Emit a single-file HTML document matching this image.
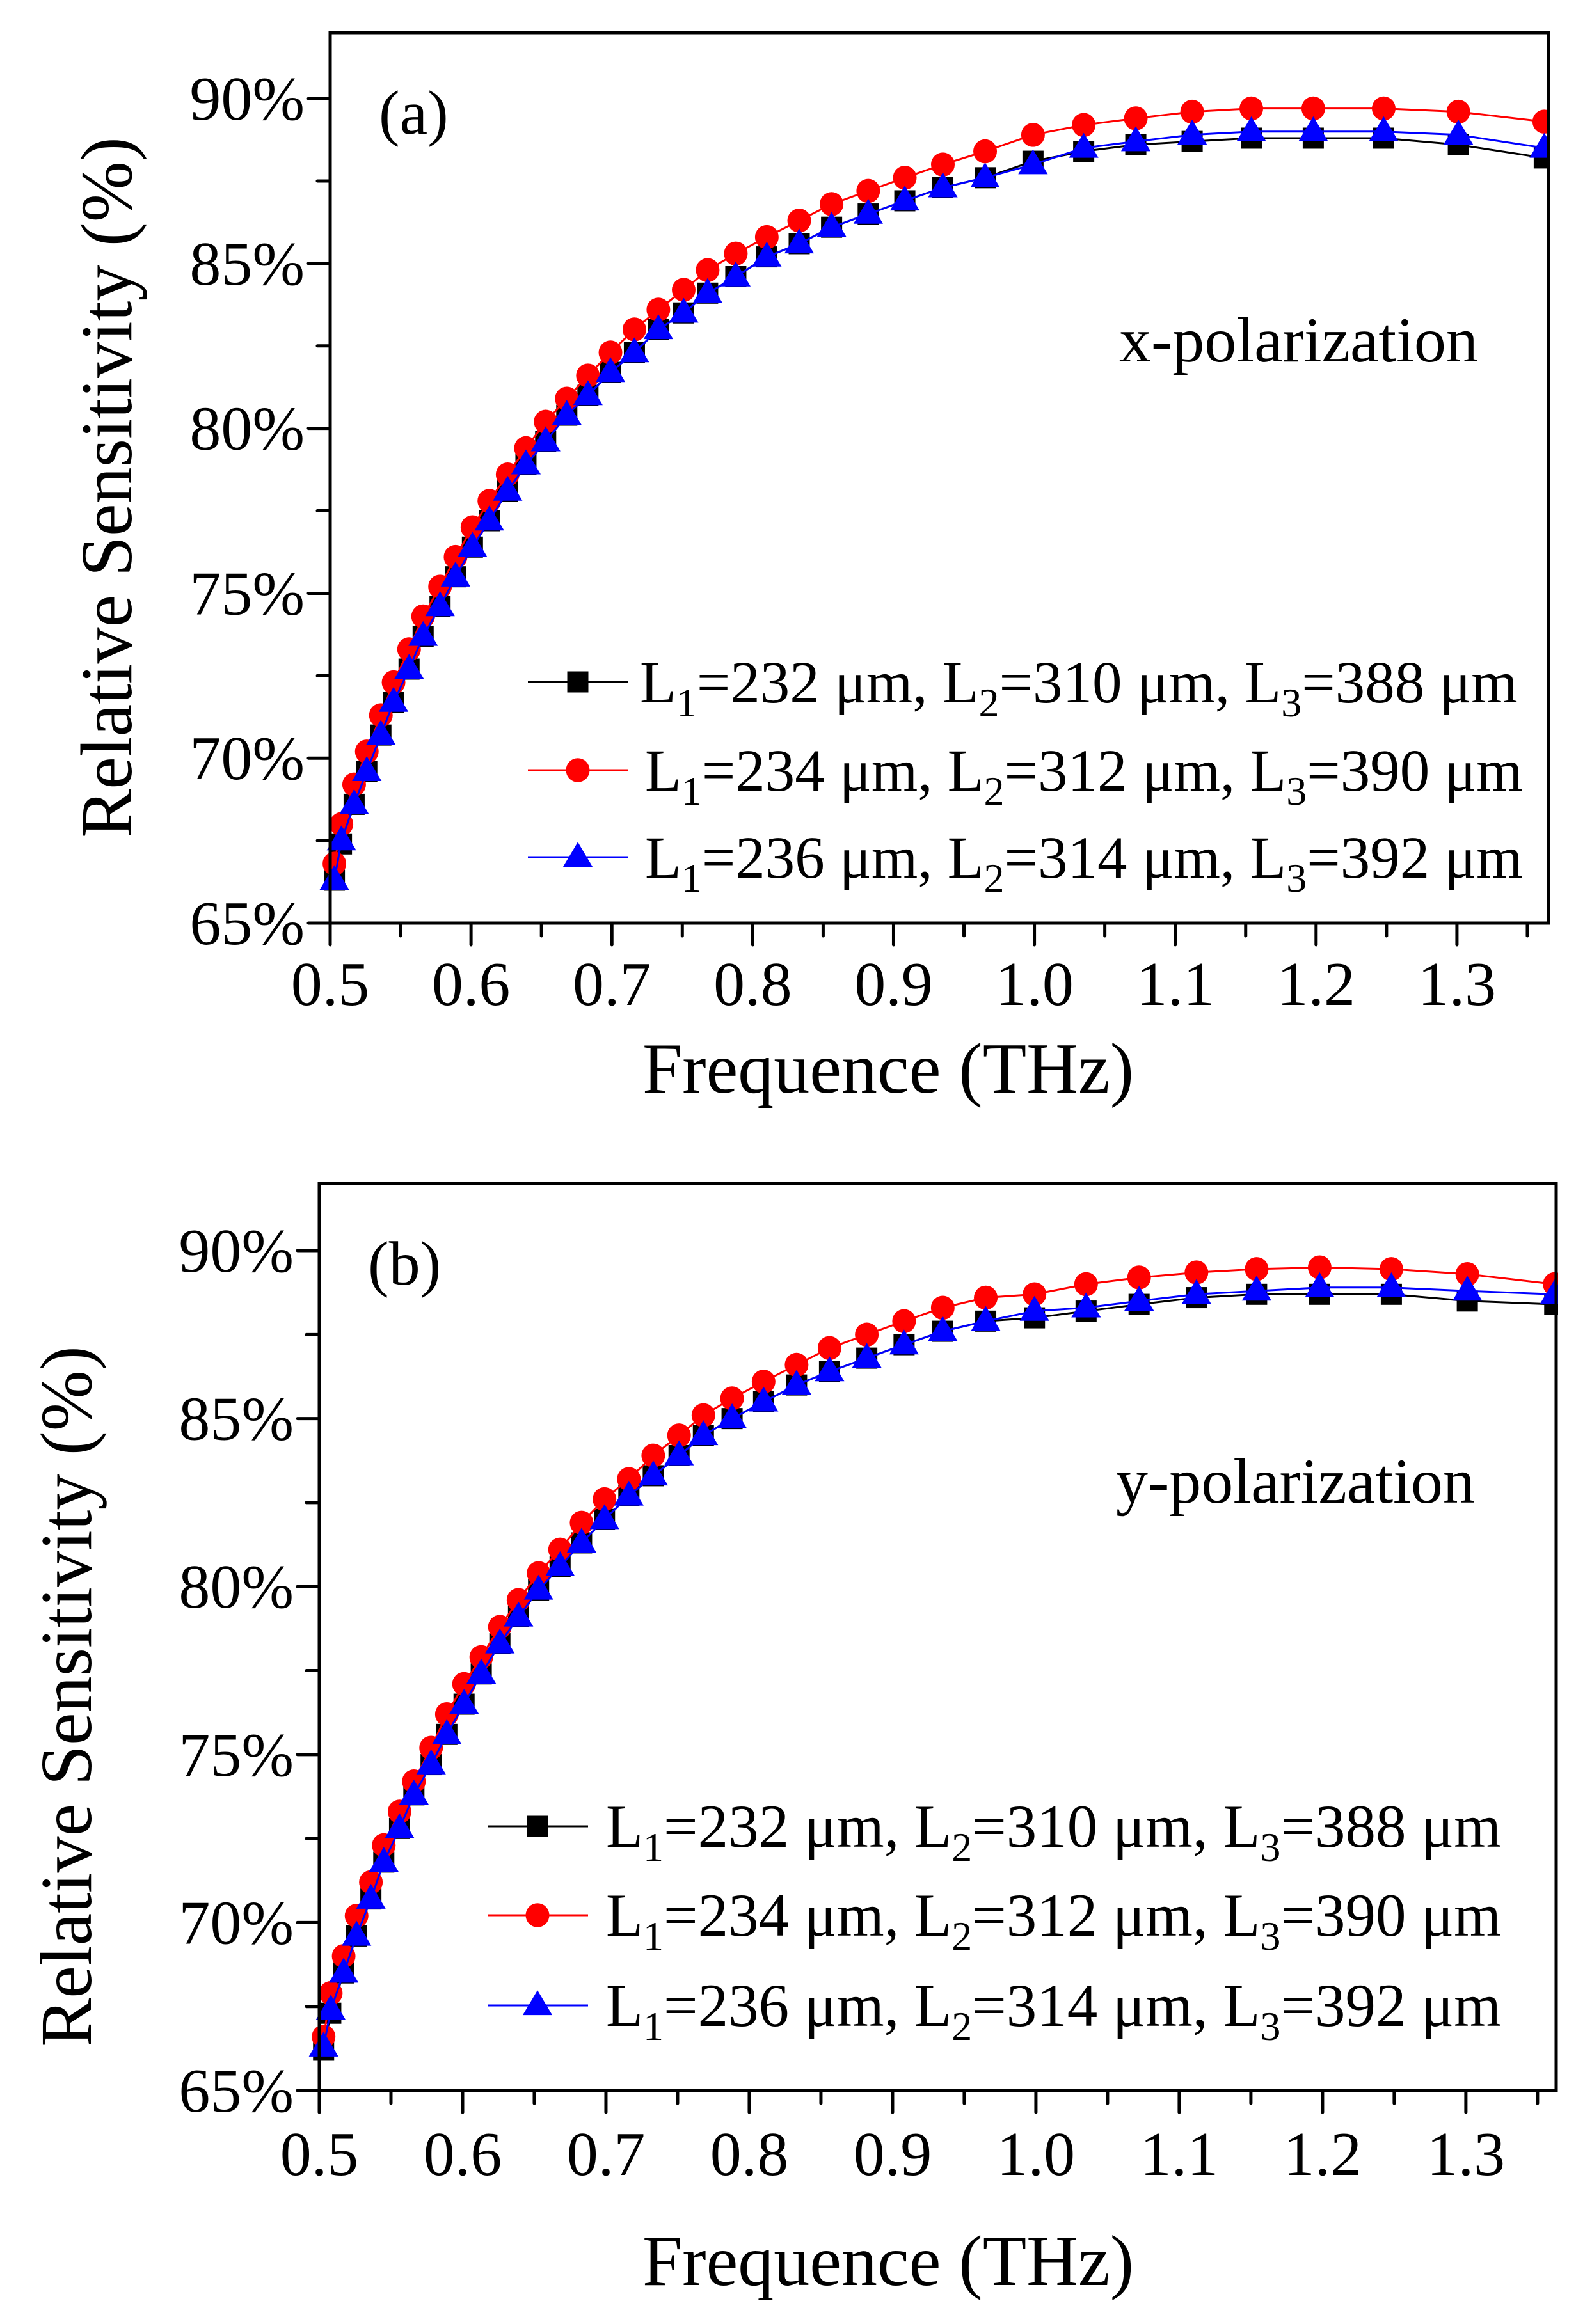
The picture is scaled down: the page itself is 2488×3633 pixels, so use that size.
<!DOCTYPE html>
<html><head><meta charset="utf-8"><style>
html,body{margin:0;padding:0;background:#fff;}
svg{display:block;}
text{font-family:"Liberation Serif",serif;fill:#000;}
</style></head><body>
<svg id="chart" width="2488" height="3633" viewBox="0 0 2488 3633" xmlns="http://www.w3.org/2000/svg"></svg>
<script>
const freq = [0.503,0.508,0.517,0.526,0.536,0.545,0.556,0.566,0.578,0.589,0.601,0.613,0.626,0.639,0.653,0.668,0.683,0.699,0.716,0.733,0.751,0.768,0.788,0.810,0.833,0.856,0.882,0.908,0.935,0.965,0.999,1.035,1.072,1.112,1.154,1.198,1.248,1.301,1.362];
const xBlackA = [66.3,67.4,68.6,69.6,70.7,71.7,72.7,73.7,74.6,75.5,76.4,77.2,78.1,78.9,79.6,80.4,81.0,81.7,82.3,83.0,83.5,84.1,84.6,85.2,85.6,86.1,86.5,86.9,87.3,87.6,88.1,88.4,88.6,88.7,88.8,88.8,88.8,88.6,88.2];
const xRedA = [66.8,68.0,69.2,70.2,71.3,72.3,73.3,74.3,75.2,76.1,77.0,77.8,78.6,79.4,80.2,80.9,81.6,82.3,83.0,83.6,84.2,84.8,85.3,85.8,86.3,86.8,87.2,87.6,88.0,88.4,88.9,89.2,89.4,89.6,89.7,89.7,89.7,89.6,89.3];
const xBlueA = [66.3,67.5,68.6,69.6,70.7,71.7,72.7,73.7,74.6,75.5,76.4,77.2,78.1,78.9,79.6,80.4,81.0,81.7,82.3,83.0,83.5,84.1,84.6,85.2,85.6,86.1,86.5,86.9,87.3,87.6,88.0,88.5,88.7,88.9,89.0,89.0,89.0,88.9,88.5];
const yBlackB = [66.2,67.3,68.5,69.6,70.7,71.8,72.8,73.8,74.7,75.6,76.5,77.4,78.3,79.1,79.9,80.6,81.3,82.0,82.7,83.3,83.9,84.5,85.0,85.5,86.0,86.4,86.8,87.2,87.6,87.9,88.0,88.2,88.4,88.6,88.7,88.7,88.7,88.5,88.4];
const yRedB = [66.6,67.9,69.0,70.2,71.2,72.3,73.3,74.2,75.2,76.2,77.1,77.9,78.8,79.6,80.4,81.1,81.9,82.6,83.2,83.9,84.5,85.1,85.6,86.1,86.6,87.1,87.5,87.9,88.3,88.6,88.7,89.0,89.2,89.35,89.45,89.5,89.45,89.3,89.0];
const yBlueB = [66.3,67.4,68.5,69.6,70.7,71.8,72.8,73.8,74.7,75.6,76.5,77.4,78.3,79.1,79.9,80.6,81.3,82.0,82.7,83.3,83.9,84.5,85.0,85.5,86.0,86.4,86.8,87.2,87.6,87.9,88.2,88.3,88.5,88.7,88.8,88.9,88.9,88.8,88.7];
const xTicks = [0.5,0.6,0.7,0.8,0.9,1.0,1.1,1.2,1.3];
const xTickLabels = ["0.5","0.6","0.7","0.8","0.9","1.0","1.1","1.2","1.3"];
const yTicks = [65,70,75,80,85,90];
const yTickLabels = ["65%","70%","75%","80%","85%","90%"];
const legendLabels = [["232","310","388"],["234","312","390"],["236","314","392"]];

const NS="http://www.w3.org/2000/svg";
const svg=document.getElementById('chart');
function mk(tag,attrs,parent){const e=document.createElementNS(NS,tag);for(const k in attrs)e.setAttribute(k,attrs[k]);(parent||svg).appendChild(e);return e;}

const colors=["#000000","#ff0000","#0000ff"];
const names=["black","red","blue"];

function marker(g,kind,cx,cy,col,s){
  let m;
  if(kind===0) m=mk('rect',{x:cx-s*0.5,y:cy-s*0.5,width:s,height:s,fill:col},g);
  else if(kind===1) m=mk('ellipse',{cx:cx,cy:cy,rx:s*0.56,ry:s*0.57,fill:col},g);
  else m=mk('polygon',{points:`${cx},${cy-s*0.72} ${cx-s*0.7},${cy+s*0.46} ${cx+s*0.7},${cy+s*0.46}`,fill:col},g);
  return m;
}

function panel(p){
  const g=mk('g',{});
  
  
  const X=v=>p.L+(v-p.x0)/(p.x1-p.x0)*(p.R-p.L);
  const Y=v=>p.B-(v-p.y0)/(p.y1-p.y0)*(p.B-p.T);
  const series=[p.black,p.red,p.blue];
  series.forEach((vals,si)=>{
    const sg=mk('g',{},g);
    
    
    const pts=freq.map((f,i)=>X(f).toFixed(1)+','+Y(vals[i]).toFixed(1)).join(' ');
    const ln=mk('polyline',{points:pts,fill:'none',stroke:colors[si],'stroke-width':3},sg);
    
    
    freq.forEach((f,i)=>{
      const m=marker(sg,si,X(f),Y(vals[i]),colors[si],33);
      
      
    });
  });
  mk('rect',{x:p.R+3,y:p.T-40,width:200,height:p.B-p.T+80,fill:'#fff'},g);
  mk('rect',{x:p.L-60,y:p.B+3,width:p.R-p.L+120,height:40,fill:'#fff'},g);
  const fr=mk('rect',{x:p.L,y:p.T,width:p.R-p.L,height:p.B-p.T,fill:'none',stroke:'#000','stroke-width':5},g);
  
  
  for(let v=p.x0;v<=p.x1+1e-9;v+=0.05){
    const major=Math.abs(Math.round(v*10)-v*10)<1e-6;
    mk('line',{x1:X(v),y1:p.B,x2:X(v),y2:p.B+(major?34:20),stroke:'#000','stroke-width':5,'stroke-linecap':'round'},g);
  }
  xTicks.forEach((v,i)=>{
    const t=mk('text',{x:X(v),y:p.xLabY,'font-size':98,'text-anchor':'middle'},g);
    t.textContent=xTickLabels[i];
    
    
  });
  for(let v=p.y0;v<=p.y1+1e-9;v+=2.5){
    const major=Math.abs(v%5)<1e-6;
    mk('line',{x1:p.L,y1:Y(v),x2:p.L-(major?34:20),y2:Y(v),stroke:'#000','stroke-width':5,'stroke-linecap':'round'},g);
  }
  yTicks.forEach((v,i)=>{
    const t=mk('text',{x:p.L-40,y:Y(v)+33,'font-size':98,'text-anchor':'end'},g);
    t.textContent=yTickLabels[i];
    
    
  });
  const xt=mk('text',{x:1388,y:p.xTitleY,'font-size':112,'text-anchor':'middle'},g);
  xt.textContent='Frequence (THz)';
  
  
  const yt=mk('text',{x:0,y:0,'font-size':114,'text-anchor':'middle',transform:`translate(${p.yTitleX},${p.yTitleC}) rotate(-90)`},g);
  yt.textContent='Relative Sensitivity (%)';
  
  
  const pl=mk('text',{x:p.L+76,y:p.T+158,'font-size':98},g);
  pl.textContent=p.letter;
  
  
  const pz=mk('text',{x:p.polX,y:p.polY,'font-size':100},g);
  pz.textContent=p.pol;
  
  
  const lg=mk('g',{},g);
  
  
  legendLabels.forEach((lab,i)=>{
    const ry=p.legY[i];
    const eg=mk('g',{},lg);
    
    
    mk('line',{x1:p.legX0,y1:ry,x2:p.legX0+157,y2:ry,stroke:colors[i],'stroke-width':3},eg);
    marker(eg,i,p.legX0+78,ry,colors[i],33);
    const t=mk('text',{x:p.legTx+(i>0?p.legShift:0),y:ry+32,'font-size':p.legFs},eg);
    t.innerHTML=`L<tspan font-size="64" dy="22">1</tspan><tspan dy="-22">=${lab[0]} μm, L</tspan><tspan font-size="64" dy="22">2</tspan><tspan dy="-22">=${lab[1]} μm, L</tspan><tspan font-size="64" dy="22">3</tspan><tspan dy="-22">=${lab[2]} μm</tspan>`;
  });
}

panel({id:'a',L:516,R:2420,T:51,B:1443,x0:0.5,x1:1.365,y0:65,y1:92,
  black:xBlackA,red:xRedA,blue:xBlueA,letter:'(a)',pol:'x-polarization',polX:1749,polY:565,
  xLabY:1571,xTitleY:1708,yTitleX:205,yTitleC:762,legX0:825,legTx:1000,legShift:8,legFs:93,legY:[1066,1204,1340]});
panel({id:'b',L:499,R:2432,T:1850,B:3268,x0:0.5,x1:1.363,y0:65,y1:92,
  black:yBlackB,red:yRedB,blue:yBlueB,letter:'(b)',pol:'y-polarization',polX:1744,polY:2349,
  xLabY:3400,xTitleY:3572,yTitleX:142,yTitleC:2652,legX0:762,legTx:947,legShift:0,legFs:95,legY:[2855,2994,3135]});
</script>
</body></html>
